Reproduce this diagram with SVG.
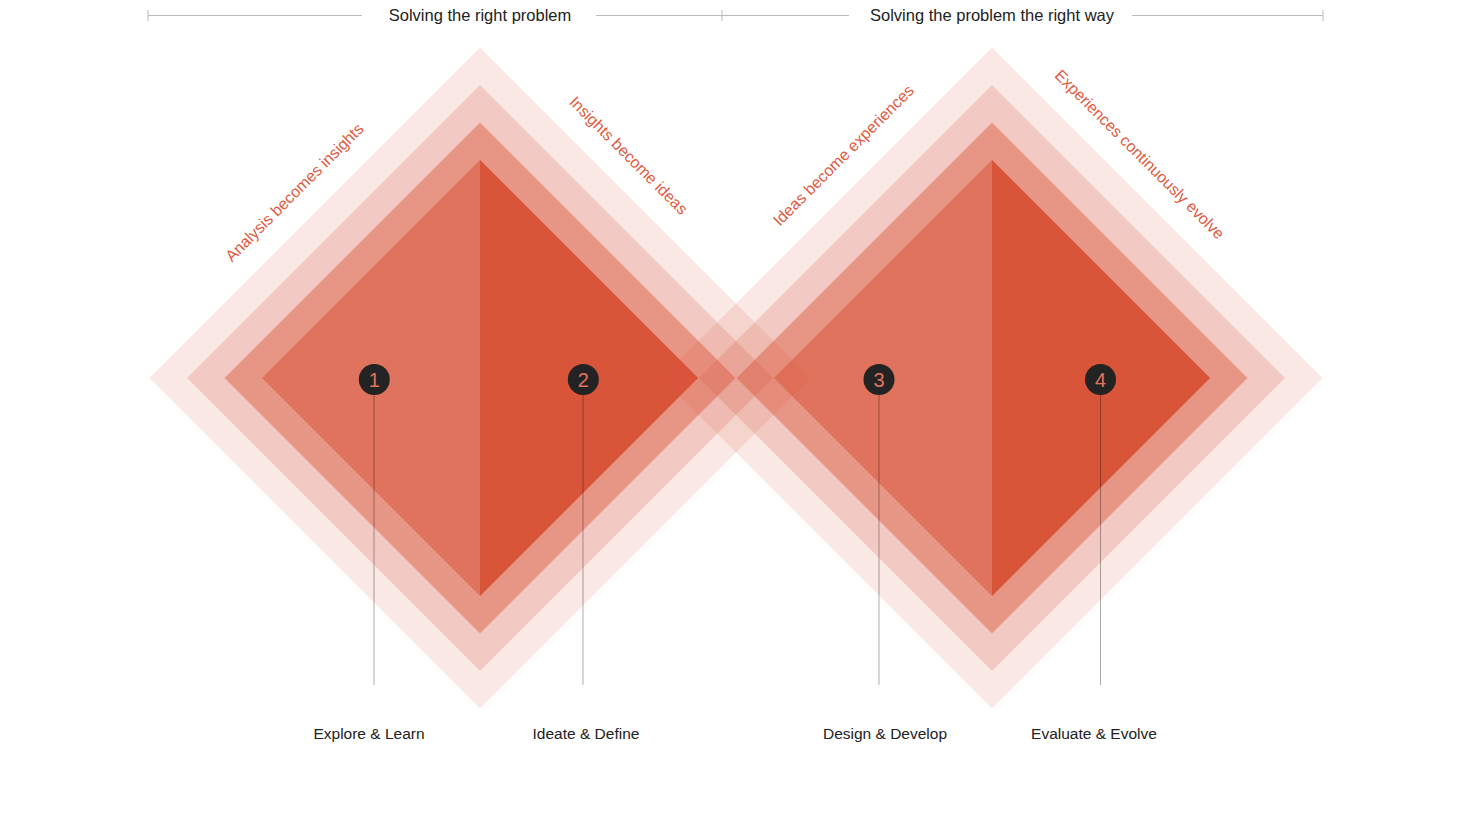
<svg xmlns="http://www.w3.org/2000/svg" width="1472" height="828" viewBox="0 0 1472 828">
<style>
.l1{fill:#D9553A;fill-opacity:0.135}
.l2{fill:#D9553A;fill-opacity:0.2}
.l3{fill:#D9553A;fill-opacity:0.45}
.l4{fill:#D9553A;fill-opacity:0.52}
.l5{fill:#D9553A}
.hd{font-family:"Liberation Sans",Arial,sans-serif;font-size:16.5px;fill:#222;text-anchor:middle}
.lb{font-family:"Liberation Sans",Arial,sans-serif;font-size:15.5px;fill:#222;text-anchor:middle}
.rt{font-family:"Liberation Sans",Arial,sans-serif;font-size:16px;fill:#DF5A40;text-anchor:middle}
.num{font-family:"Liberation Sans",Arial,sans-serif;font-size:20px;fill:#E0745E;text-anchor:middle}
.rule{stroke:#BBBBBB;stroke-width:1;fill:none}
.conn{stroke:#000;stroke-opacity:0.33;stroke-width:1;fill:none}
</style>
<rect width="1472" height="828" fill="#fff"/>
<g id="header">
<path class="rule" d="M148 15.5H362M148 10V21M596 15.5H849M722 10V21M1132 15.5H1323M1323 10V21"/>
<text class="hd" x="480" y="21">Solving the right problem</text>
<text class="hd" x="992" y="21">Solving the problem the right way</text>
</g>
<g id="diamond-left">
<polygon class="l1" points="480,47.5 810.5,378 480,708.5 149.5,378"/>
<polygon class="l2" points="480,85 773,378 480,671 187,378"/>
<polygon class="l3" points="480,122.5 735.5,378 480,633.5 224.5,378"/>
<polygon class="l4" points="480,160 698,378 480,596 262,378"/>
<polygon class="l5" points="480,160 698,378 480,596"/>
</g>
<g id="diamond-right">
<polygon class="l1" points="992,47.5 1322.5,378 992,708.5 661.5,378"/>
<polygon class="l2" points="992,85 1285,378 992,671 699,378"/>
<polygon class="l3" points="992,122.5 1247.5,378 992,633.5 736.5,378"/>
<polygon class="l4" points="992,160 1210,378 992,596 774,378"/>
<polygon class="l5" points="992,160 1210,378 992,596"/>
</g>
<g id="edge-labels">
<text class="rt" transform="translate(294,192) rotate(-45)" x="0" y="6">Analysis becomes insights</text>
<text class="rt" transform="translate(629,155) rotate(45)" x="0" y="6">Insights become ideas</text>
<text class="rt" transform="translate(843,155) rotate(-45)" x="0" y="6">Ideas become experiences</text>
<text class="rt" transform="translate(1140,154) rotate(45)" x="0" y="6">Experiences continuously evolve</text>
</g>
<g id="connectors">
<line class="conn" x1="374" y1="395" x2="374" y2="685"/>
<line class="conn" x1="583" y1="395" x2="583" y2="685"/>
<line class="conn" x1="879" y1="395" x2="879" y2="685"/>
<line class="conn" x1="1100.5" y1="395" x2="1100.5" y2="685"/>
</g>
<g id="step-1">
<circle cx="374.3" cy="379.5" r="15.5" fill="#232323"/>
<text class="num" x="374.3" y="386.5">1</text>
<text class="lb" x="369" y="739">Explore &amp; Learn</text>
</g>
<g id="step-2">
<circle cx="583.3" cy="379.5" r="15.5" fill="#232323"/>
<text class="num" x="583.3" y="386.5">2</text>
<text class="lb" x="586" y="739">Ideate &amp; Define</text>
</g>
<g id="step-3">
<circle cx="879" cy="379.5" r="15.5" fill="#232323"/>
<text class="num" x="879" y="386.5">3</text>
<text class="lb" x="885" y="739">Design &amp; Develop</text>
</g>
<g id="step-4">
<circle cx="1100.5" cy="379.5" r="15.5" fill="#232323"/>
<text class="num" x="1100.5" y="386.5">4</text>
<text class="lb" x="1094" y="739">Evaluate &amp; Evolve</text>
</g>
</svg>
